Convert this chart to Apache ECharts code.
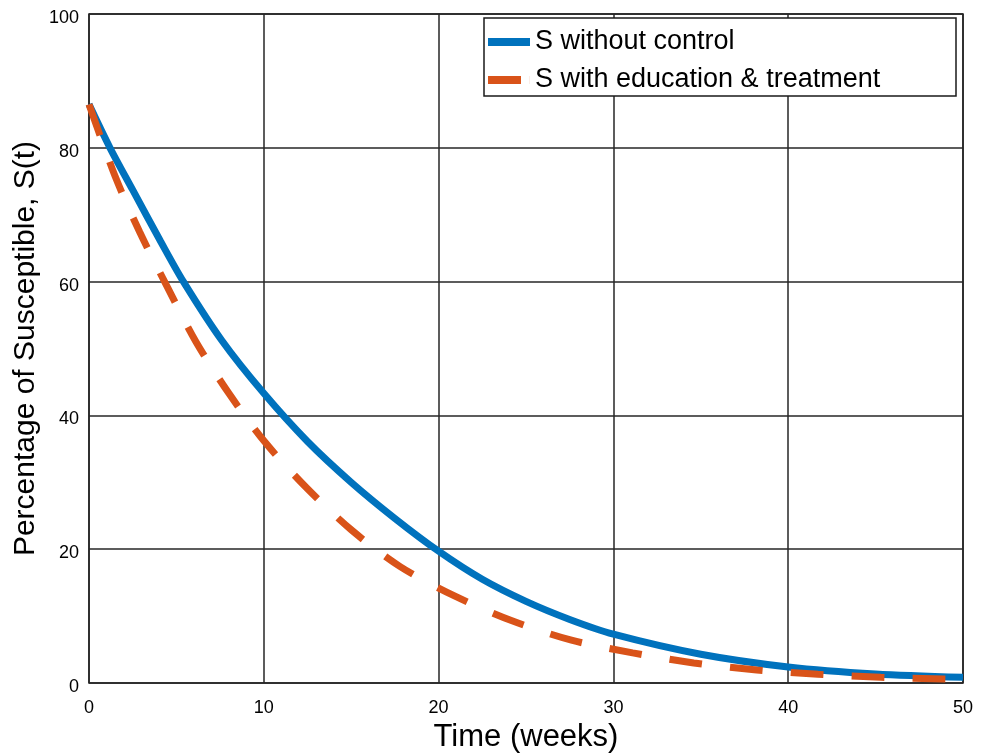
<!DOCTYPE html>
<html>
<head>
<meta charset="utf-8">
<script src="https://cdn.jsdelivr.net/npm/echarts@6.0.0/dist/echarts.min.js"></script>
<style>
	html, body { margin: 0; padding: 0; background: #fff; }
	#main { width: 985px; height: 755px; }
</style>
</head>
<body>
<div id="main"></div>
<script>
// values
const noControlT = [0, 1.2, 2.5, 4.1, 5.4, 7.6, 10, 12.5, 15, 17.5, 20, 22.5, 25, 27.5, 30, 35, 40, 45, 50]
const noControlS = [86.5, 80, 73.7, 66.0, 60, 51.2, 43.3, 36.1, 30.0, 24.6, 19.7, 15.5, 12.2, 9.5, 7.3, 4.3, 2.4, 1.35, 0.85]

const controlT = [0, 1.5, 2.9, 4.5, 6.1, 8, 10.1, 12.4, 15, 17.8, 21, 24.2, 27.6, 31.1, 34.6, 38.2, 41.7, 45.3, 48.9, 50]
const controlS = [86.5, 75.7, 67.4, 59.1, 51.1, 43.3, 35.9, 29.3, 22.9, 17.4, 12.9, 9.3, 6.4, 4.5, 3.0, 1.95, 1.3, 0.85, 0.6, 0.55]

const seriesNames = ['S without control', 'S with education & treatment']
const xTicks = [0, 10, 20, 30, 40, 50]
const yTicks = [0, 20, 40, 60, 80, 100]

const pairs = (xs, ys) => xs.map((x, i) => [x, ys[i]])
const font = 'Liberation Sans, Arial, Helvetica, sans-serif'

var myChart = echarts.init(document.getElementById('main'))

var option = {
	backgroundColor: '#fff',
	animation: false,
	grid: {
		left: 89, right: 22, top: 14, bottom: 72,
		outerBoundsMode: 'none',
		show: true, borderColor: '#1a1a1a', borderWidth: 1.5,
	},
	legend: {
		orient: 'vertical',
		left: 484, top: 18,
		padding: [9, 6, 1, 4],
		itemGap: 8,
		itemWidth: 42, itemHeight: 8,
		backgroundColor: '#fff',
		borderColor: '#1a1a1a', borderWidth: 1.5,
		itemStyle: { borderWidth: 0 },
		textStyle: { fontFamily: font, fontSize: 27, color: '#000', lineHeight: 30, width: 415 },
		data: [
			{ name: seriesNames[0], icon: 'rect' },
			// dash of the pattern, then the gap up to the icon width
			{ name: seriesNames[1], icon: 'path://M0 0H33V8H0Z M41.9 0H42V8H41.9Z' },
		],
	},
	xAxis: {
		type: 'value',
		min: xTicks[0], max: xTicks[xTicks.length - 1], interval: 10,
		name: 'Time (weeks)', nameLocation: 'middle', nameGap: 39, nameMoveOverlap: false,
		nameTextStyle: { fontFamily: font, fontSize: 31, color: '#000' },
		axisLine: { show: false }, axisTick: { show: false },
		axisLabel: { fontFamily: font, fontSize: 18, color: '#000', margin: 16 },
		splitLine: { show: true, lineStyle: { color: '#262626', width: 1.5 } },
	},
	yAxis: {
		type: 'value',
		min: yTicks[0], max: yTicks[yTicks.length - 1], interval: 20,
		name: 'Percentage of Susceptible, S(t)', nameLocation: 'middle', nameGap: 48, nameMoveOverlap: false,
		nameTextStyle: { fontFamily: font, fontSize: 30, color: '#000' },
		axisLine: { show: false }, axisTick: { show: false },
		axisLabel: { fontFamily: font, fontSize: 18, color: '#000', margin: 10, verticalAlign: 'top', lineHeight: 8 },
		splitLine: { show: true, lineStyle: { color: '#262626', width: 1.5 } },
	},
	series: [
		{
			name: seriesNames[0], type: 'line', smooth: 0.3, symbol: 'none',
			lineStyle: { color: '#0072BD', width: 7 },
			itemStyle: { color: '#0072BD' },
			data: pairs(noControlT, noControlS),
		},
		{
			name: seriesNames[1], type: 'line', smooth: 0.3, symbol: 'none',
			lineStyle: { color: '#D95319', width: 7, type: [33, 28], cap: 'butt' },
			itemStyle: { color: '#D95319' },
			data: pairs(controlT, controlS),
		},
	],
}

myChart.setOption(option)
</script>
</body>
</html>
